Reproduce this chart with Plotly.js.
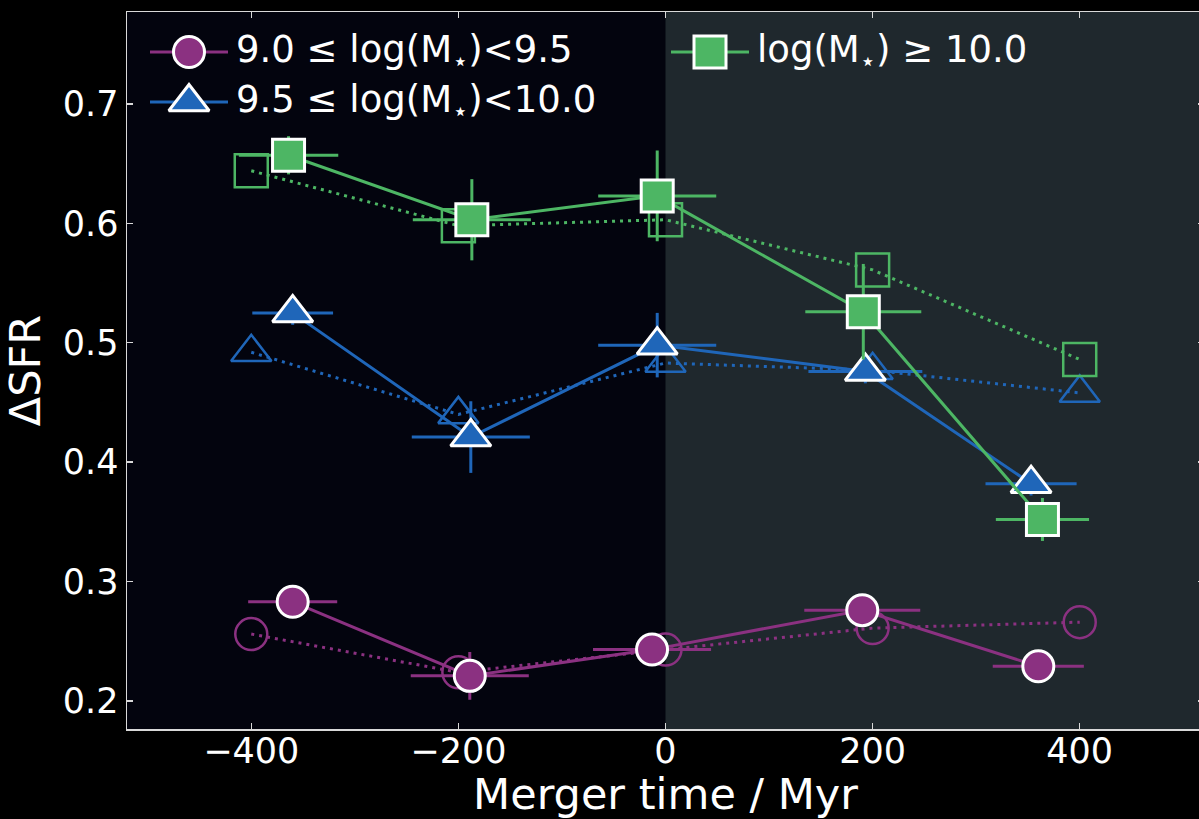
<!DOCTYPE html>
<html>
<head>
<meta charset="utf-8">
<script src="https://cdn.plot.ly/plotly-3.0.1.min.js"></script>
<style>
  html, body { margin: 0; padding: 0; background: #000; overflow: hidden; }
  #chart { width: 1204px; height: 819px; }
</style>
</head>
<body>
<div id="chart"></div>
<script>
// Binned merger times (Myr) for the open-marker comparison sample
const binTimes = [-400, -200, 0, 200, 400];

// 9.0 <= log(M*) < 9.5
const lowTime   = [-360, -189, -13, 190, 360];
const lowSFR    = [0.283, 0.221, 0.243, 0.276, 0.229];
const lowTErr   = [43, 57, 57, 56, 44];
const lowSFRErr = [0.008, 0.020, 0.008, 0.008, 0.007];
const lowBin    = [0.256, 0.224, 0.243, 0.261, 0.266];

// 9.5 <= log(M*) < 10.0
const midTime   = [-360, -188, -8, 193, 353];
const midSFR    = [0.525, 0.421, 0.498, 0.476, 0.382];
const midTErr   = [39, 57, 57, 55, 44];
const midSFRErr = [0.010, 0.030, 0.027, 0.010, 0.010];
const midBin    = [0.492, 0.440, 0.483, 0.477, 0.458];

// log(M*) >= 10.0
const highTime   = [-364, -187, -8, 191, 364];
const highSFR    = [0.657, 0.603, 0.623, 0.526, 0.352];
const highTErr   = [48, 57, 57, 56, 45];
const highSFRErr = [0.016, 0.034, 0.038, 0.040, 0.018];
const highBin    = [0.644, 0.598, 0.603, 0.561, 0.486];

const xTicks = [-400, -200, 0, 200, 400];
const yTicks = [0.2, 0.3, 0.4, 0.5, 0.6, 0.7];

const labels = [
  '9.0 ≤ log(M<sub>⋆</sub>)<9.5',
  '9.5 ≤ log(M<sub>⋆</sub>)<10.0',
  'log(M<sub>⋆</sub>) ≥ 10.0'
];

const FONT = 'DejaVu Sans, Liberation Sans, sans-serif';
const COLORS = ['#8b3181', '#1f66b9', '#4db664'];
const FILLED = ['circle', 'triangle-up', 'square'];
const OPEN = ['circle-open', 'triangle-up-open', 'square-open'];
const FSIZE = [31, 35, 32];
const OSIZE = [32, 35, 33];
const LW = 3;

const series = [
  {t: lowTime,  y: lowSFR,  te: lowTErr,  ye: lowSFRErr,  bin: lowBin},
  {t: midTime,  y: midSFR,  te: midTErr,  ye: midSFRErr,  bin: midBin},
  {t: highTime, y: highSFR, te: highTErr, ye: highSFRErr, bin: highBin}
];

const traces = [];

// binned comparison sample: open markers joined by dotted lines
series.forEach((s, i) => {
  traces.push({
    type: 'scatter', mode: 'lines+markers',
    x: binTimes, y: s.bin,
    line: {color: COLORS[i], width: LW, dash: '3px,5px'},
    marker: {symbol: OPEN[i], size: OSIZE[i], color: COLORS[i], opacity: 1,
             line: {width: 2.5, color: COLORS[i]}},
    showlegend: false, hoverinfo: 'skip', cliponaxis: false
  });
});

// main sample: filled markers with error bars
series.forEach((s, i) => {
  traces.push({
    type: 'scatter', mode: 'lines+markers',
    x: s.t, y: s.y,
    line: {color: COLORS[i], width: LW},
    marker: {symbol: FILLED[i], size: FSIZE[i], color: COLORS[i], opacity: 1,
             line: {width: 3, color: '#ffffff'}},
    error_x: {type: 'data', array: s.te, visible: true, color: COLORS[i], thickness: LW, width: 0},
    error_y: {type: 'data', array: s.ye, visible: true, color: COLORS[i], thickness: LW, width: 0},
    showlegend: false, hoverinfo: 'skip', cliponaxis: false
  });
});

// legend keys, placed on a pixel-scaled overlay axis
const keyRows = [
  {x0: 150, y: 52},
  {x0: 150, y: 102},
  {x0: 671, y: 52}
];
const KEY_LEN = 78;
const annotations = [];
keyRows.forEach((k, i) => {
  traces.push({
    type: 'scatter', mode: 'lines+markers',
    xaxis: 'x2', yaxis: 'y2',
    x: [k.x0, k.x0 + KEY_LEN / 2, k.x0 + KEY_LEN], y: [k.y, k.y, k.y],
    line: {color: COLORS[i], width: LW},
    marker: {symbol: FILLED[i], size: [0, FSIZE[i], 0], color: COLORS[i], opacity: 1,
             line: {width: [0, 3, 0], color: '#ffffff'}},
    showlegend: false, hoverinfo: 'skip'
  });
  annotations.push({
    xref: 'x2', yref: 'y2', x: k.x0 + KEY_LEN + 6, y: k.y,
    xanchor: 'left', yanchor: 'middle', showarrow: false,
    text: labels[i], font: {family: FONT, size: 37, color: '#ffffff'}
  });
});

const axisCommon = {
  showgrid: false, zeroline: false,
  showline: true, linecolor: '#d9d9d9', linewidth: 1.5, mirror: 'ticks',
  ticks: 'inside', ticklen: 6, tickwidth: 1.5, tickcolor: '#d9d9d9',
  tickfont: {family: FONT, size: 35, color: '#ffffff'}
};

const layout = {
  width: 1204, height: 819,
  margin: {l: 127, r: 0, t: 12, b: 90},
  paper_bgcolor: '#000000',
  plot_bgcolor: '#03040e',
  showlegend: false,
  xaxis: Object.assign({}, axisCommon, {
    range: [-520, 520], tickvals: xTicks, ticklabelstandoff: -10,
    title: {text: 'Merger time / Myr', font: {family: FONT, size: 43, color: '#ffffff'}, standoff: 4}
  }),
  yaxis: Object.assign({}, axisCommon, {
    range: [0.1765, 0.777], tickvals: yTicks, tickformat: '.1f', ticklabelstandoff: 0,
    title: {text: 'ΔSFR', font: {family: FONT, size: 43, color: '#ffffff'}, standoff: 10}
  }),
  xaxis2: {overlaying: 'x', range: [127, 1204], visible: false, fixedrange: true},
  yaxis2: {overlaying: 'y', range: [729, 12], visible: false, fixedrange: true},
  shapes: [{
    type: 'rect', xref: 'x', yref: 'paper', x0: 0, x1: 520, y0: 0, y1: 1,
    fillcolor: '#1f282d', line: {width: 0}, layer: 'below'
  }],
  annotations: annotations
};

Plotly.newPlot('chart', traces, layout, {staticPlot: true, displayModeBar: false});
</script>
</body>
</html>
